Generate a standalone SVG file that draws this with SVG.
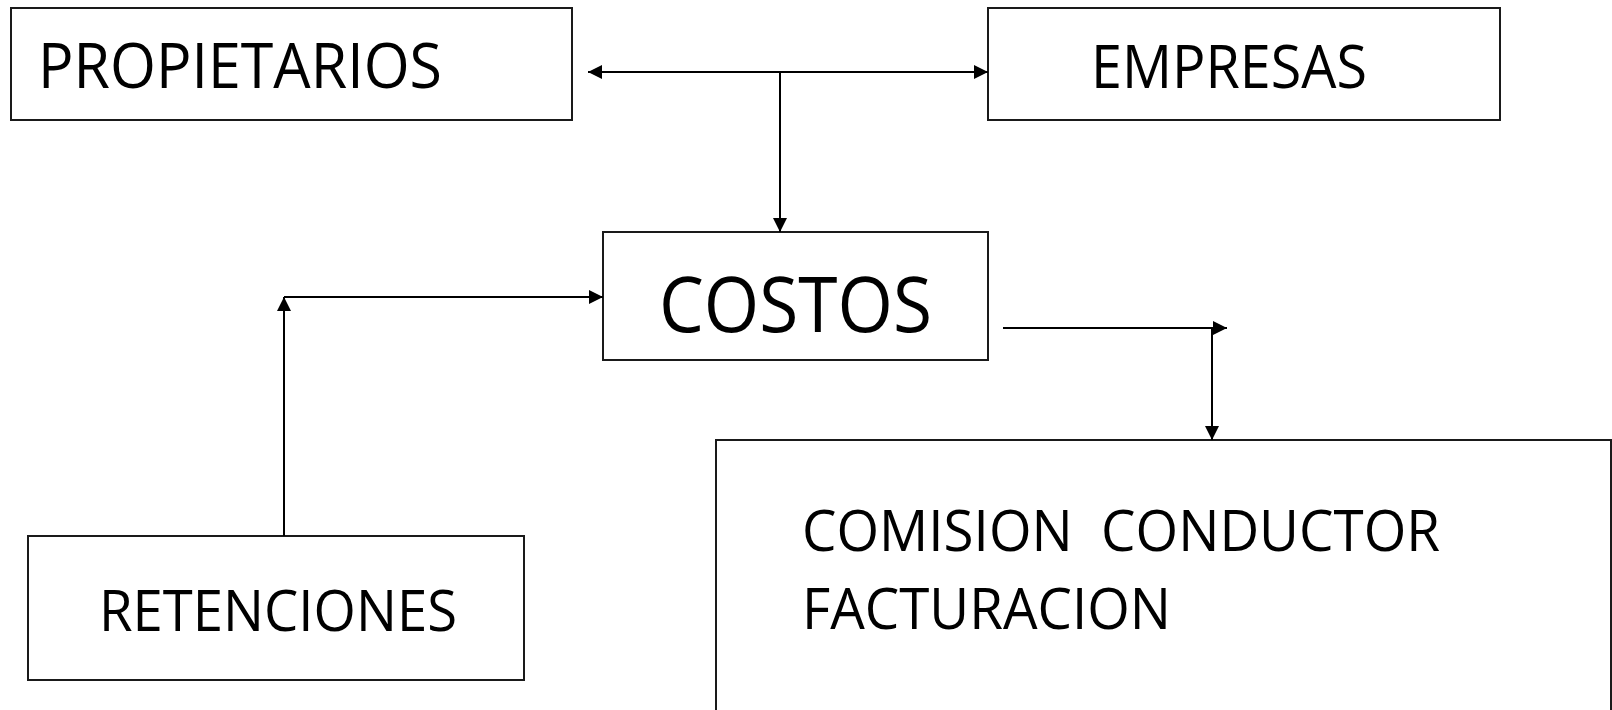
<svg xmlns="http://www.w3.org/2000/svg" width="1612" height="710" viewBox="0 0 1612 710">
<style>
.box{fill:#fff;stroke:#1a1a1a;stroke-width:2}
.lbl{font-family:"Open Sans","Liberation Sans",sans-serif;fill:#000;white-space:pre}
.con{fill:none;stroke:#000;stroke-width:2}
</style>
<defs>
<marker id="ah" markerUnits="userSpaceOnUse" markerWidth="14" markerHeight="14" refX="14" refY="7" orient="auto-start-reverse" viewBox="0 0 14 14">
<path d="M0,0 L14,7 L0,14 z" fill="#000"/>
</marker>
</defs>
<rect width="1612" height="710" fill="#fff"/>
<g id="propietarios">
<rect class="box" x="11" y="8" width="561" height="112"/>
<text class="lbl" x="38" y="88" font-size="63" textLength="404" lengthAdjust="spacingAndGlyphs">PROPIETARIOS</text>
</g>
<g id="empresas">
<rect class="box" x="988" y="8" width="512" height="112"/>
<text class="lbl" x="1091" y="88" font-size="61" textLength="276" lengthAdjust="spacingAndGlyphs">EMPRESAS</text>
</g>
<g id="costos">
<rect class="box" x="603" y="232" width="385" height="128"/>
<text class="lbl" x="659" y="332" font-size="77" textLength="273" lengthAdjust="spacingAndGlyphs">COSTOS</text>
</g>
<g id="retenciones">
<rect class="box" x="28" y="536" width="496" height="144"/>
<text class="lbl" x="99" y="631" font-size="56" textLength="358" lengthAdjust="spacingAndGlyphs">RETENCIONES</text>
</g>
<g id="comision">
<rect class="box" x="716" y="440" width="895" height="300"/>
<text class="lbl" x="802" y="551" font-size="56" textLength="638" lengthAdjust="spacingAndGlyphs" xml:space="preserve">COMISION  CONDUCTOR</text>
<text class="lbl" x="802" y="629" font-size="56" textLength="369" lengthAdjust="spacingAndGlyphs">FACTURACION</text>
</g>
<g id="connectors">
<path class="con" d="M588 72 H988" marker-start="url(#ah)" marker-end="url(#ah)"/>
<path class="con" d="M780 72 V232" marker-end="url(#ah)"/>
<path class="con" d="M284 536 V297" marker-end="url(#ah)"/>
<path class="con" d="M284 297 H603" marker-end="url(#ah)"/>
<path class="con" d="M1003 328 H1227" marker-end="url(#ah)"/>
<path class="con" d="M1212 328 V440" marker-end="url(#ah)"/>
</g>
</svg>
